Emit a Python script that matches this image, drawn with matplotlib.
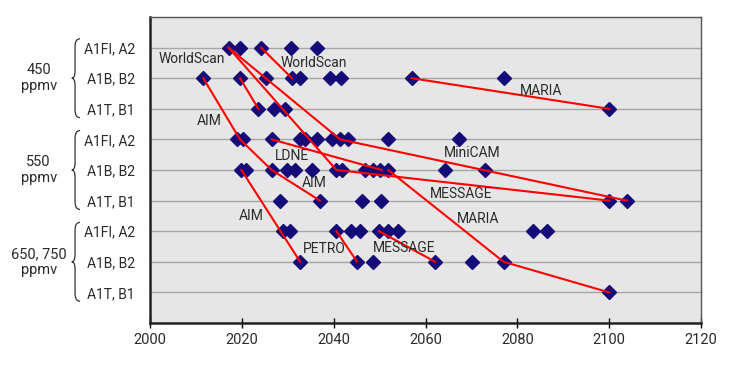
import matplotlib.pyplot as plt
from matplotlib.path import Path
from matplotlib.patches import PathPatch

plt.rcParams['font.family'] = ['Roboto', 'DejaVu Sans']

# rows from bottom (1) to top (9)
scenario_labels = ["A1T, B1", "A1B, B2", "A1FI, A2"] * 3
group_labels = ["650, 750\nppmv", "550\nppmv", "450\nppmv"]

# year of peak emissions, one list per row
y650_a1t = [2100.0]
y650_a1b = [2032.7, 2045.1, 2048.5, 2062.1, 2070.2, 2077.0]
y650_a1fi = [2029.0, 2030.5, 2040.6, 2043.8, 2045.8, 2049.9, 2051.9, 2054.1, 2083.5, 2086.4]
y550_a1t = [2028.3, 2037.0, 2046.1, 2050.4, 2100.0, 2103.8]
y550_a1b = [2019.9, 2020.9, 2026.5, 2029.8, 2031.6, 2035.3, 2040.6, 2041.9,
            2046.8, 2048.5, 2050.1, 2051.9, 2064.3, 2073.0]
y550_a1fi = [2018.9, 2020.3, 2026.5, 2032.7, 2033.8, 2036.3, 2039.6, 2041.4,
             2043.2, 2051.9, 2067.4]
y450_a1t = [2023.6, 2027.1, 2029.3, 2100.0]
y450_a1b = [2011.6, 2019.6, 2025.3, 2030.9, 2032.7, 2039.2, 2041.5, 2057.0, 2077.0]
y450_a1fi = [2017.1, 2019.6, 2024.2, 2030.7, 2036.3]

rows = [y650_a1t, y650_a1b, y650_a1fi, y550_a1t, y550_a1b, y550_a1fi,
        y450_a1t, y450_a1b, y450_a1fi]

# red connecting lines (year, row)
line_years = [
    [2017.1, 2041.4, 2103.8],
    [2017.1, 2040.6, 2100.0],
    [2024.2, 2030.9],
    [2019.6, 2023.6],
    [2011.6, 2019.6, 2026.5, 2037.0],
    [2026.5, 2050.5],
    [2051.9, 2077.0, 2100.0],
    [2057.0, 2100.0],
    [2019.9, 2032.7],
    [2040.6, 2045.1],
    [2049.9, 2062.1],
]
line_rows = [
    [9, 6, 4],
    [9, 5, 4],
    [9, 8],
    [8, 7],
    [8, 6, 5, 4],
    [6, 5],
    [5, 2, 1],
    [8, 7],
    [5, 2],
    [3, 2],
    [3, 2],
]

model_names = ["WorldScan", "WorldScan", "MARIA", "AIM", "LDNE", "MiniCAM", "AIM",
               "MESSAGE", "AIM", "MARIA", "PETRO", "MESSAGE"]
name_x = [2009.1, 2035.6, 2085.1, 2012.9, 2030.9, 2070.1, 2035.8,
          2067.7, 2022.0, 2071.5, 2038.0, 2055.3]
name_y = [8.62, 8.50, 7.59, 6.61, 5.45, 5.55, 4.56, 4.20, 3.49, 3.39, 2.43, 2.46]

fig = plt.figure(figsize=(7.29, 3.68), dpi=100)
ax = fig.add_axes([150 / 729, 1 - 323 / 368, 551 / 729, 306 / 368])
ax.set_facecolor('#e6e6e6')

for i, yrs in enumerate(rows):
    ax.plot(yrs, [i + 1] * len(yrs), linestyle='none', marker='D', markersize=7,
            color='#140a78', zorder=3)

for xs, ys in zip(line_years, line_rows):
    ax.plot(xs, ys, color='#ff0000', linewidth=1.5, zorder=4)

for name, x, y in zip(model_names, name_x, name_y):
    ax.text(x, y, name, ha='center', va='center', fontsize=10, color='#2a2a2a', zorder=5)

ax.set_xlim(2000, 2120)
ax.set_ylim(0, 10)
ax.set_xticks(range(2000, 2121, 20))
ax.set_yticks(range(1, 10))
ax.set_yticklabels(scenario_labels)
ax.tick_params(axis='y', length=0, pad=11, labelsize=10, labelcolor='#2a2a2a')
ax.tick_params(axis='x', direction='inout', length=7, width=1, labelsize=10.5,
               labelcolor='#2a2a2a', pad=4)
ax.yaxis.grid(True, color='#a6a6a6', linewidth=1)
ax.set_axisbelow(True)
for side in ['left', 'bottom']:
    ax.spines[side].set_color('#222222')
    ax.spines[side].set_linewidth(1.8)
for side in ['top', 'right']:
    ax.spines[side].set_color('#555555')
    ax.spines[side].set_linewidth(1)

# braces and group labels left of the scenario names
trans = ax.get_yaxis_transform()
x_end, x_main, x_tip = -0.127, -0.136, -0.142
c = 0.25
for g, label in enumerate(group_labels):
    lo, hi = 3 * g + 1, 3 * g + 3
    top, bot, mid = hi + 0.29, lo - 0.29, (lo + hi) / 2
    verts = [(x_end, top), (x_main, top), (x_main, top - c),
             (x_main, mid + c),
             (x_main, mid), (x_tip, mid),
             (x_main, mid), (x_main, mid - c),
             (x_main, bot + c),
             (x_main, bot), (x_end, bot)]
    codes = [Path.MOVETO, Path.CURVE3, Path.CURVE3, Path.LINETO,
             Path.CURVE3, Path.CURVE3, Path.CURVE3, Path.CURVE3,
             Path.LINETO, Path.CURVE3, Path.CURVE3]
    ax.add_patch(PathPatch(Path(verts, codes), transform=trans, fill=False,
                           edgecolor='#333333', linewidth=0.9, clip_on=False))
    ax.text(-0.202, mid, label, transform=trans, ha='center', va='center',
            fontsize=10.5, color='#2a2a2a', linespacing=1.15)

fig.savefig('out.png', dpi=100)
